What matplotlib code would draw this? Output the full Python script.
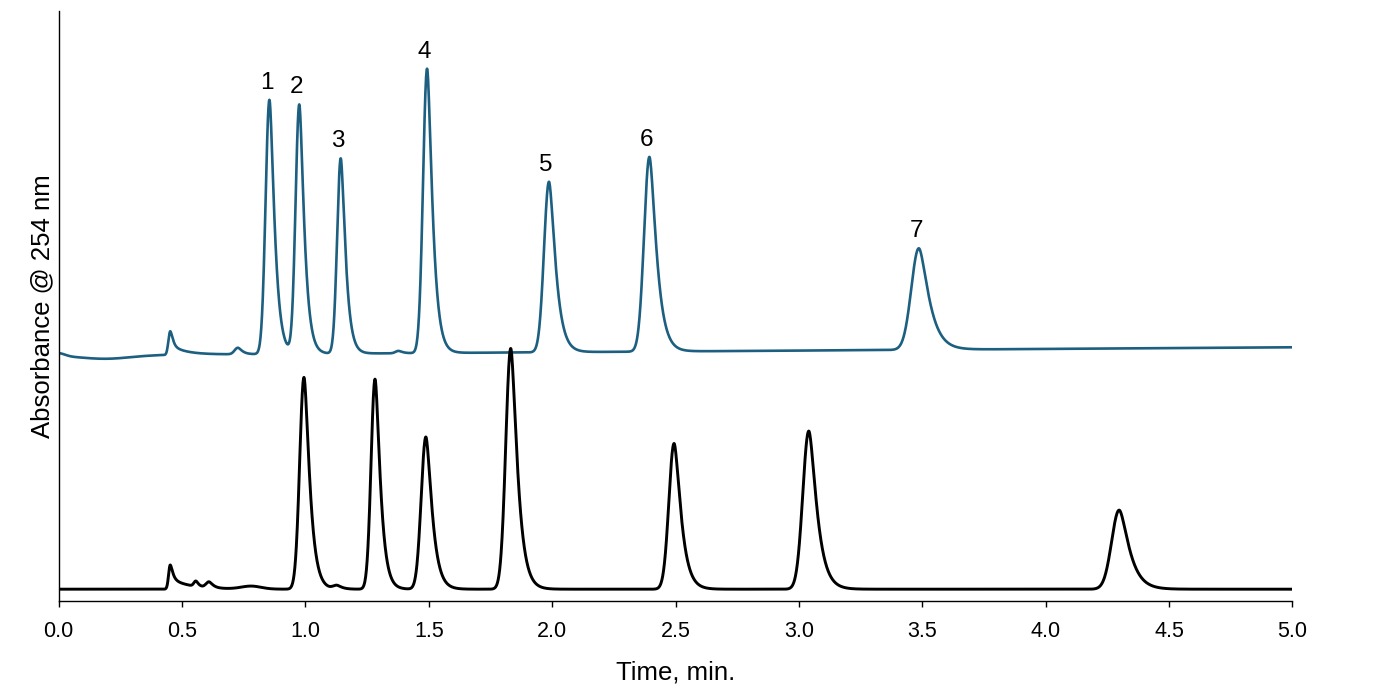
import numpy as np
import matplotlib.pyplot as plt

plt.rcParams['font.family'] = ['Liberation Sans', 'DejaVu Sans']

# time grid (min)
time_min = np.linspace(0, 5, 5001)

# top trace (blue): labelled peaks 1-7 plus small system peaks
blue_rt = [0.451, 0.462, 0.726, 0.854, 0.975, 1.143, 1.377, 1.493, 1.987, 2.394, 3.486]
blue_height = [3.2, 1.4, 1.1, 43.1, 42.2, 33.1, 0.4, 48.2, 28.9, 33.0, 17.2]
blue_sigma = [0.007, 0.01, 0.013, 0.0155, 0.015, 0.0145, 0.012, 0.0163, 0.020, 0.0215, 0.0305]
blue_tail = [1.1, 6.0, 1.1, 1.1, 1.1, 1.1, 1.1, 1.1, 1.1, 1.1, 1.1]
blue_label = ['', '', '', '1', '2', '3', '', '4', '5', '6', '7']
blue_offset = 41.6
blue_drift = 0.28  # per min
# injection disturbance at the start of the blue trace
blue_dist_rt = [0.0, 0.19]
blue_dist_height = [0.5, -0.6]
blue_dist_sigma = [0.025, 0.1]

# bottom trace (black)
black_rt = [0.451, 0.46, 0.556, 0.609, 0.78, 0.994, 1.127, 1.282, 1.488, 1.832, 2.494, 3.040, 4.298]
black_height = [3.0, 1.6, 0.9, 1.0, 0.5, 35.9, 0.6, 35.6, 25.8, 40.8, 24.7, 26.8, 13.4]
black_sigma = [0.006, 0.01, 0.008, 0.012, 0.04, 0.0173, 0.015, 0.016, 0.0189, 0.020, 0.021, 0.0242, 0.0305]
black_tail = [1.5, 8.0, 1.1, 1.1, 0, 1.1, 1.1, 1.1, 1.1, 1.1, 1.1, 1.1, 1.1]
black_offset = 2.0

x_ticks = [0.0, 0.5, 1.0, 1.5, 2.0, 2.5, 3.0, 3.5, 4.0, 4.5, 5.0]


def peak(t, rt, h, s, tail):
    # gaussian front, tailing back
    d = t - rt
    if tail == 0:
        den = 2 * s ** 2
    else:
        den = np.where(d < 0, 2 * s ** 2, 1.3 * s ** 2 + tail * s * np.clip(d, 0, None))
    return h * np.exp(-d ** 2 / den)


blue = blue_offset + blue_drift * time_min
for rt, h, s in zip(blue_dist_rt, blue_dist_height, blue_dist_sigma):
    blue += peak(time_min, rt, h, s, 0)
for rt, h, s, k in zip(blue_rt, blue_height, blue_sigma, blue_tail):
    blue += peak(time_min, rt, h, s, k)

black = np.full_like(time_min, black_offset)
for rt, h, s, k in zip(black_rt, black_height, black_sigma, black_tail):
    black += peak(time_min, rt, h, s, k)

fig = plt.figure(figsize=(13.88, 6.9), dpi=100)
ax = fig.add_axes([0.0423, 0.129, 0.8888, 0.8551])

ax.plot(time_min, blue, color='#1d5f80', lw=1.9)
ax.plot(time_min, black, color='black', lw=2.1)

# peak numbers above the blue trace
for rt, lab in zip(blue_rt, blue_label):
    if lab:
        y = np.interp(rt, time_min, blue)
        ax.annotate(lab, (rt, y), xytext=(-2, 8), textcoords='offset points',
                    ha='center', va='baseline', fontsize=17.5)

ax.set_xlim(0, 5)
ax.set_ylim(0, 100)
ax.set_xticks(x_ticks)
ax.set_xticklabels(['%.1f' % v for v in x_ticks])
ax.set_yticks([])
ax.spines['top'].set_visible(False)
ax.spines['right'].set_visible(False)
ax.spines['left'].set_linewidth(1.0)
ax.spines['bottom'].set_linewidth(1.0)
ax.tick_params(axis='x', direction='out', length=4.5, width=1.0, pad=10, labelsize=15.5)

ax.set_xlabel('Time, min.', fontsize=18.5, labelpad=13)
ax.set_ylabel('Absorbance @ 254 nm', fontsize=18.5, labelpad=3)

plt.savefig('out.png', dpi=100)
